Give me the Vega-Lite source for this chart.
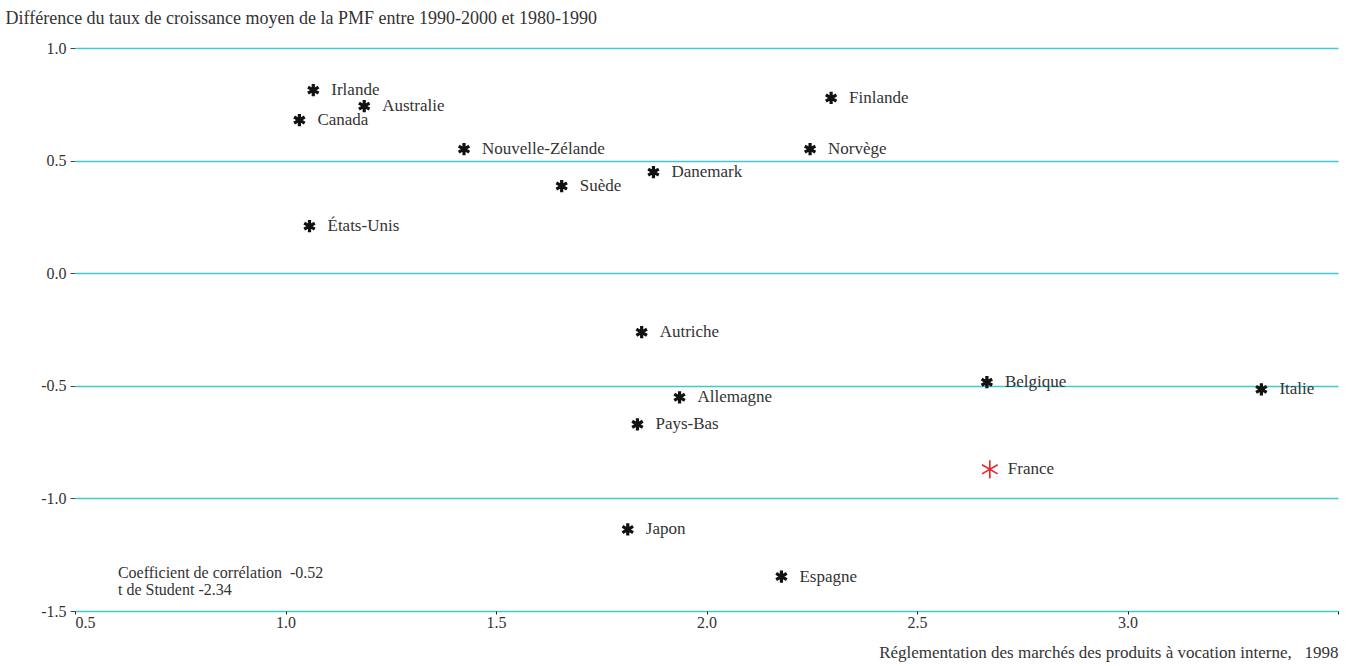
{
  "$schema": "https://vega.github.io/schema/vega-lite/v6.json",
  "autosize": {"type": "none"},
  "width": 1263,
  "height": 563,
  "padding": {"left": 75, "top": 48, "right": 17, "bottom": 55},
  "background": "white",
  "config": {
    "view": {"stroke": null},
    "font": "Liberation Serif",
    "axis": {"labelFont": "Liberation Serif", "titleFont": "Liberation Serif", "labelColor": "#333", "titleColor": "#333", "labelFontSize": 16, "titleFontSize": 17, "titleFontWeight": "normal"}
  },
  "layer": [
    {
      "data": {"values": [
        {"pays": "Irlande", "reglementation": 1.066, "difference": 0.813},
        {"pays": "Australie", "reglementation": 1.187, "difference": 0.742},
        {"pays": "Canada", "reglementation": 1.033, "difference": 0.68},
        {"pays": "Nouvelle-Zélande", "reglementation": 1.424, "difference": 0.551},
        {"pays": "Suède", "reglementation": 1.656, "difference": 0.387},
        {"pays": "Danemark", "reglementation": 1.874, "difference": 0.449},
        {"pays": "États-Unis", "reglementation": 1.057, "difference": 0.209},
        {"pays": "Finlande", "reglementation": 2.296, "difference": 0.778},
        {"pays": "Norvège", "reglementation": 2.246, "difference": 0.551},
        {"pays": "Autriche", "reglementation": 1.846, "difference": -0.262},
        {"pays": "Allemagne", "reglementation": 1.936, "difference": -0.551},
        {"pays": "Pays-Bas", "reglementation": 1.836, "difference": -0.671},
        {"pays": "Belgique", "reglementation": 2.666, "difference": -0.484},
        {"pays": "Italie", "reglementation": 3.318, "difference": -0.516},
        {"pays": "France", "reglementation": 2.673, "difference": -0.871},
        {"pays": "Japon", "reglementation": 1.813, "difference": -1.138},
        {"pays": "Espagne", "reglementation": 2.178, "difference": -1.347}
      ]},
      "encoding": {
        "x": {"field": "reglementation", "type": "quantitative",
          "scale": {"domain": [0.5, 3.5], "nice": false, "zero": false},
          "axis": {"values": [0.5, 1.0, 1.5, 2.0, 2.5, 3.0, 3.5], "labelExpr": "datum.value >= 3.5 ? '' : format(datum.value, '.1f')", "grid": false, "domain": false, "tickColor": "#222", "tickSize": 3, "labelPadding": 0,
            "title": "Réglementation des marchés des produits à vocation interne,\u00a0\u00a0\u00a01998", "titleAnchor": "end", "titleAlign": "right", "titlePadding": 14}},
        "y": {"field": "difference", "type": "quantitative",
          "scale": {"domain": [-1.5, 1.0], "nice": false, "zero": false},
          "axis": {"values": [-1.5, -1.0, -0.5, 0.0, 0.5, 1.0], "labelExpr": "replace(format(datum.value, '.1f'), '\u2212', '-')", "grid": true, "gridColor": "#3fc9d3", "gridWidth": 1.5, "gridOpacity": 1, "domain": false, "tickColor": "#444", "tickSize": 5, "labelPadding": 4,
            "title": "Différence du taux de croissance moyen de la PMF entre 1990-2000 et 1980-1990", "titleFontSize": 18, "titleAngle": 0, "titleAlign": "left", "titleBaseline": "middle", "titleX": -70, "titleY": -30}}
      },
      "layer": [
        {
          "mark": {"type": "point", "shape": "M0,-1L0,1M-0.866,-0.5L0.866,0.5M-0.866,0.5L0.866,-0.5", "filled": false, "opacity": 1},
          "encoding": {
            "size": {"condition": {"test": "datum.pays === 'France'", "value": 330}, "value": 150},
            "strokeWidth": {"condition": {"test": "datum.pays === 'France'", "value": 1.6}, "value": 3.2},
            "color": {"condition": {"test": "datum.pays === 'France'", "value": "#e8262a"}, "value": "#111"}
          }
        },
        {
          "mark": {"type": "text", "align": "left", "baseline": "middle", "dx": 18, "fontSize": 17, "color": "#333", "font": "Liberation Serif"},
          "encoding": {"text": {"field": "pays"}}
        }
      ]
    },
    {
      "data": {"values": [{"x": 0.602, "y": -1.33, "t": ["Coefficient de corrélation\u00a0\u00a0-0.52", "t de Student -2.34"]}]},
      "mark": {"type": "text", "align": "left", "baseline": "middle", "fontSize": 16, "color": "#333", "font": "Liberation Serif", "lineHeight": 17},
      "encoding": {
        "x": {"field": "x", "type": "quantitative"},
        "y": {"field": "y", "type": "quantitative"},
        "text": {"field": "t"}
      }
    }
  ]
}
